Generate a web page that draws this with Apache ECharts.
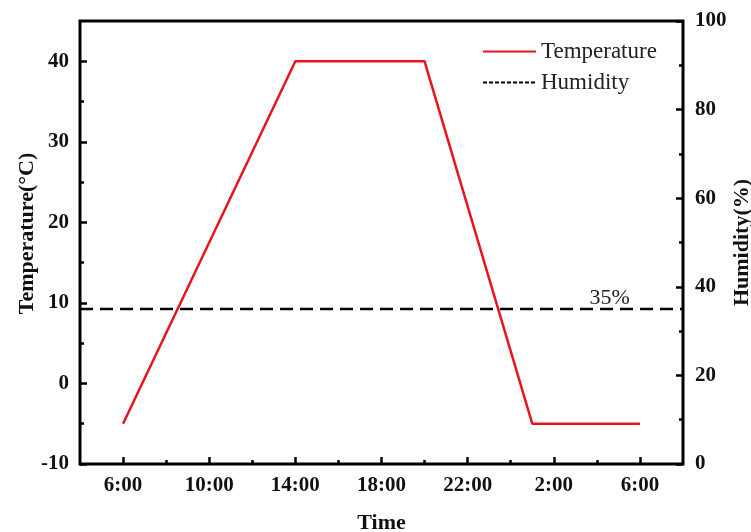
<!DOCTYPE html>
<html>
<head>
<meta charset="utf-8">
<script src="https://cdn.jsdelivr.net/npm/echarts@6/dist/echarts.min.js"></script>
<style>
  html, body { margin: 0; padding: 0; background: #fff; }
  #chart { width: 751px; height: 532px; }
</style>
</head>
<body>
<div id="chart"></div>
<script>
// Temperature profile over one day (hours counted from 0:00 of day one)
const tempHours = [6, 14, 20, 25, 30];
const temperature = [-5, 40, 40, -5, -5];

// Constant relative humidity across the whole window
const humidityHours = [4, 32];
const humidity = [35, 35];
const humidityLabelHour = 28.6;

// Time axis ticks and labels
const timeTicks = [6, 10, 14, 18, 22, 26, 30];
const timeLabels = ['6:00', '10:00', '14:00', '18:00', '22:00', '2:00', '6:00'];
const timeMinorTicks = [8, 12, 16, 20, 24, 28];

// Temperature axis ticks
const tempTicks = [-10, 0, 10, 20, 30, 40];
const tempMinorTicks = [-5, 5, 15, 25, 35];

const FONT = '"Liberation Serif", "Times New Roman", serif';
const INK = '#111';
const TICK_FONT = 21;

const chart = echarts.init(document.getElementById('chart'), null, { renderer: 'canvas' });

const hiddenLine = { show: false, onZero: false };
const tickLine = { color: '#000', width: 2.5 };

const option = {
  animation: false,
  backgroundColor: '#fff',
  grid: {
    left: 80, right: 68, top: 21, bottom: 68,
    outerBoundsMode: 'none',
    containLabel: false,
    show: true, borderColor: '#000', borderWidth: 3, backgroundColor: 'transparent'
  },
  legend: {
    orient: 'vertical',
    left: 477, top: 35,
    itemWidth: 53, itemHeight: 14, itemGap: 8,
    itemStyle: { opacity: 0 },
    textStyle: { fontFamily: FONT, fontSize: 23, lineHeight: 23, color: '#222' },
    data: [
      { name: 'Temperature' },
      { name: 'Humidity', lineStyle: { type: [4, 2], width: 2 } }
    ]
  },
  xAxis: [
    {
      type: 'value', min: 4, max: 32, position: 'bottom',
      axisLine: hiddenLine,
      splitLine: { show: false },
      axisTick: { show: true, inside: true, length: 7, customValues: timeTicks, lineStyle: tickLine },
      axisLabel: {
        customValues: timeTicks,
        margin: 11,
        fontFamily: FONT, fontSize: TICK_FONT, fontWeight: 'bold', color: INK,
        formatter: v => timeLabels[timeTicks.indexOf(v)] ?? ''
      },
      name: 'Time', nameLocation: 'middle', nameGap: 48, nameMoveOverlap: false,
      nameTextStyle: { fontFamily: FONT, fontSize: 22, fontWeight: 'bold', color: INK,
                       verticalAlign: 'top' }
    },
    {
      type: 'value', min: 4, max: 32, position: 'bottom',
      axisLine: hiddenLine,
      splitLine: { show: false },
      axisTick: { show: true, inside: true, length: 4, customValues: timeMinorTicks, lineStyle: tickLine },
      axisLabel: { show: false }
    }
  ],
  yAxis: [
    {
      type: 'value', min: -10, max: 45, position: 'left',
      axisLine: hiddenLine,
      splitLine: { show: false },
      axisTick: { show: true, inside: true, length: 7, customValues: tempTicks, lineStyle: tickLine },
      axisLabel: {
        customValues: tempTicks,
        margin: 11,
        fontFamily: FONT, fontSize: TICK_FONT, fontWeight: 'bold', color: INK
      },
      name: 'Temperature(°C)', nameLocation: 'middle', nameGap: 42, nameRotate: 90,
      nameMoveOverlap: false,
      nameTextStyle: { fontFamily: FONT, fontSize: 22, fontWeight: 'bold', color: INK,
                       padding: [0, 0, 0, 18] }
    },
    {
      type: 'value', min: -10, max: 45, position: 'left',
      axisLine: hiddenLine,
      splitLine: { show: false },
      axisTick: { show: true, inside: true, length: 4, customValues: tempMinorTicks, lineStyle: tickLine },
      axisLabel: { show: false }
    },
    {
      type: 'value', min: 0, max: 100, interval: 20, position: 'right',
      axisLine: hiddenLine,
      splitLine: { show: false },
      axisTick: { show: true, inside: true, length: 7, lineStyle: tickLine },
      minorTick: { show: true, splitNumber: 2, length: 4, lineStyle: tickLine },
      axisLabel: {
        margin: 12,
        fontFamily: FONT, fontSize: TICK_FONT, fontWeight: 'bold', color: INK
      },
      name: 'Humidity(%)', nameLocation: 'middle', nameGap: 48, nameRotate: 90,
      nameMoveOverlap: false,
      nameTextStyle: { fontFamily: FONT, fontSize: 22, fontWeight: 'bold', color: INK }
    }
  ],
  series: [
    {
      name: 'Temperature',
      type: 'line',
      xAxisIndex: 0, yAxisIndex: 0,
      symbol: 'none',
      color: '#e8141c',
      lineStyle: { color: '#e8141c', width: 2.5 },
      data: tempHours.map((h, i) => [h, temperature[i]])
    },
    {
      name: 'Humidity',
      type: 'line',
      xAxisIndex: 0, yAxisIndex: 2,
      symbol: 'none',
      color: '#000',
      lineStyle: { color: '#000', width: 2.5, type: [13, 7] },
      data: humidityHours.map((h, i) => [h, humidity[i]]),
      markPoint: {
        symbol: 'circle', symbolSize: 0,
        label: {
          show: true, position: 'top', distance: 0,
          fontFamily: FONT, fontSize: 22, color: '#222',
          formatter: p => p.value + '%'
        },
        data: [{ coord: [humidityLabelHour, humidity[0]], value: humidity[0] }]
      }
    }
  ]
};

chart.setOption(option);
</script>
</body>
</html>
